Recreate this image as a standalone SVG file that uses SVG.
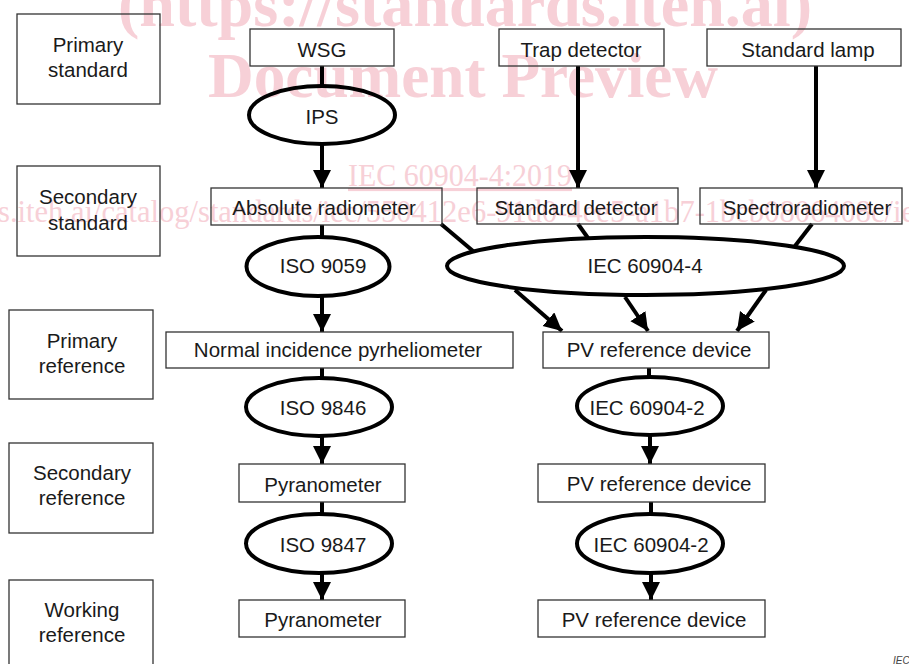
<svg xmlns="http://www.w3.org/2000/svg" width="909" height="664" viewBox="0 0 909 664">
<style>
  .wm { fill: #f7d0d7; font-family: "Liberation Serif", "Times New Roman", serif; }
  .box { fill: none; stroke: #333; stroke-width: 1.3; }
  .ell { fill: none; stroke: #000; stroke-width: 4; }
  .t { font-family: "Liberation Sans", Arial, sans-serif; font-size: 20.5px; fill: #1a1a1a; text-anchor: middle; }
  .c { stroke: #000; stroke-width: 4; fill: none; }
  .ca { stroke: #000; stroke-width: 4; fill: none; marker-end: url(#ah); }
</style>
<defs>
  <marker id="ah" markerUnits="userSpaceOnUse" markerWidth="19" markerHeight="19" refX="18" refY="9" orient="auto" viewBox="0 0 19 19">
    <path d="M0,0 L18,9 L0,18 z" fill="#000"/>
  </marker>
</defs>
<rect width="909" height="664" fill="#fff"/>
<g id="watermark">
  <text class="wm" x="118" y="26" font-size="64" font-weight="bold" textLength="694" lengthAdjust="spacingAndGlyphs">(https://standards.iteh.ai)</text>
  <text class="wm" x="208" y="97" font-size="64" font-weight="bold" textLength="510" lengthAdjust="spacingAndGlyphs">Document Preview</text>
  <text class="wm" x="348" y="186" font-size="31" textLength="224" lengthAdjust="spacingAndGlyphs" text-decoration="underline">IEC 60904-4:2019</text>
  <text class="wm" x="-2" y="222" font-size="32" textLength="917" lengthAdjust="spacingAndGlyphs">s.iteh.ai/catalog/standards/iec/550412e6-91d0-4ee5-a1b7-1bcb0806408c/ie</text>
</g>
<g id="label-primary-standard"><rect class="box" x="17" y="14" width="143" height="90"/><text class="t" x="88" y="52">Primary</text><text class="t" x="88" y="77">standard</text></g>
<g id="label-secondary-standard"><rect class="box" x="17" y="166" width="143" height="90"/><text class="t" x="88" y="204">Secondary</text><text class="t" x="88" y="230">standard</text></g>
<g id="label-primary-reference"><rect class="box" x="9" y="310" width="144" height="89"/><text class="t" x="82" y="348">Primary</text><text class="t" x="82" y="373">reference</text></g>
<g id="label-secondary-reference"><rect class="box" x="9" y="443" width="144" height="90"/><text class="t" x="82" y="480">Secondary</text><text class="t" x="82" y="505">reference</text></g>
<g id="label-working-reference"><rect class="box" x="9" y="580" width="144" height="92"/><text class="t" x="82" y="617">Working</text><text class="t" x="82" y="642">reference</text></g>

<g id="connectors">
  <line class="c" x1="322" y1="66" x2="322" y2="86"/>
  <line class="ca" x1="322" y1="144" x2="322" y2="188"/>
  <line class="ca" x1="578" y1="66" x2="578" y2="188"/>
  <line class="ca" x1="816" y1="66" x2="816" y2="188"/>
  <line class="c" x1="322" y1="225" x2="322" y2="237"/>
  <line class="c" x1="441" y1="224" x2="473" y2="251"/>
  <line class="c" x1="578" y1="224" x2="588" y2="238"/>
  <line class="c" x1="812" y1="224" x2="795" y2="246"/>
  <line class="ca" x1="322" y1="296" x2="322" y2="332"/>
  <line class="ca" x1="515" y1="290" x2="562" y2="331"/>
  <line class="ca" x1="625" y1="297" x2="648" y2="331"/>
  <line class="ca" x1="766" y1="290" x2="737" y2="331"/>
  <line class="c" x1="322" y1="368" x2="322" y2="378"/>
  <line class="c" x1="649" y1="368" x2="649" y2="377"/>
  <line class="ca" x1="322" y1="436" x2="322" y2="464"/>
  <line class="ca" x1="650" y1="435" x2="650" y2="464"/>
  <line class="c" x1="322" y1="502" x2="322" y2="514"/>
  <line class="c" x1="651" y1="502" x2="651" y2="514"/>
  <line class="ca" x1="322" y1="573" x2="322" y2="600"/>
  <line class="ca" x1="651" y1="573" x2="651" y2="600"/>
</g>

<g id="wsg"><rect class="box" x="250" y="29" width="144" height="37"/><text class="t" x="322" y="57">WSG</text></g>
<g id="trap-detector"><rect class="box" x="499" y="29" width="165" height="37"/><text class="t" x="581" y="57">Trap detector</text></g>
<g id="standard-lamp"><rect class="box" x="707" y="29" width="194" height="37"/><text class="t" x="808" y="57">Standard lamp</text></g>
<g id="ips"><ellipse class="ell" cx="322" cy="115" rx="73" ry="29"/><text class="t" x="322" y="124">IPS</text></g>
<g id="absolute-radiometer"><rect class="box" x="211" y="188" width="231" height="37"/><text class="t" x="324" y="215">Absolute radiometer</text></g>
<g id="standard-detector"><rect class="box" x="477" y="188" width="201" height="36"/><text class="t" x="576" y="215">Standard detector</text></g>
<g id="spectroradiometer"><rect class="box" x="700" y="188" width="202" height="36"/><text class="t" x="807" y="215">Spectroradiometer</text></g>
<g id="iso-9059"><ellipse class="ell" cx="318" cy="266.5" rx="71.5" ry="29.5"/><text class="t" x="323" y="273">ISO 9059</text></g>
<g id="iec-60904-4"><ellipse class="ell" cx="645.5" cy="266" rx="198.5" ry="29"/><text class="t" x="645" y="273">IEC 60904-4</text></g>
<g id="nip"><rect class="box" x="166" y="332" width="347" height="36"/><text class="t" x="338" y="357">Normal incidence pyrheliometer</text></g>
<g id="pv-primary"><rect class="box" x="543" y="332" width="226" height="36"/><text class="t" x="659" y="357">PV reference device</text></g>
<g id="iso-9846"><ellipse class="ell" cx="319" cy="407" rx="73" ry="29"/><text class="t" x="323" y="415">ISO 9846</text></g>
<g id="iec-60904-2-a"><ellipse class="ell" cx="650" cy="406" rx="73" ry="29"/><text class="t" x="647" y="415">IEC 60904-2</text></g>
<g id="pyranometer-secondary"><rect class="box" x="239" y="464" width="166" height="38"/><text class="t" x="323" y="492">Pyranometer</text></g>
<g id="pv-secondary"><rect class="box" x="538" y="464" width="227" height="38"/><text class="t" x="659" y="491">PV reference device</text></g>
<g id="iso-9847"><ellipse class="ell" cx="319" cy="543.5" rx="73" ry="29.5"/><text class="t" x="323" y="552">ISO 9847</text></g>
<g id="iec-60904-2-b"><ellipse class="ell" cx="650" cy="543.5" rx="73" ry="29.5"/><text class="t" x="651" y="552">IEC 60904-2</text></g>
<g id="pyranometer-working"><rect class="box" x="239" y="600" width="166" height="37"/><text class="t" x="323" y="627">Pyranometer</text></g>
<g id="pv-working"><rect class="box" x="538" y="600" width="227" height="37"/><text class="t" x="654" y="627">PV reference device</text></g>
<text x="893" y="664" font-family="'Liberation Sans', Arial, sans-serif" font-size="10" font-style="italic" fill="#444">IEC</text>
</svg>
